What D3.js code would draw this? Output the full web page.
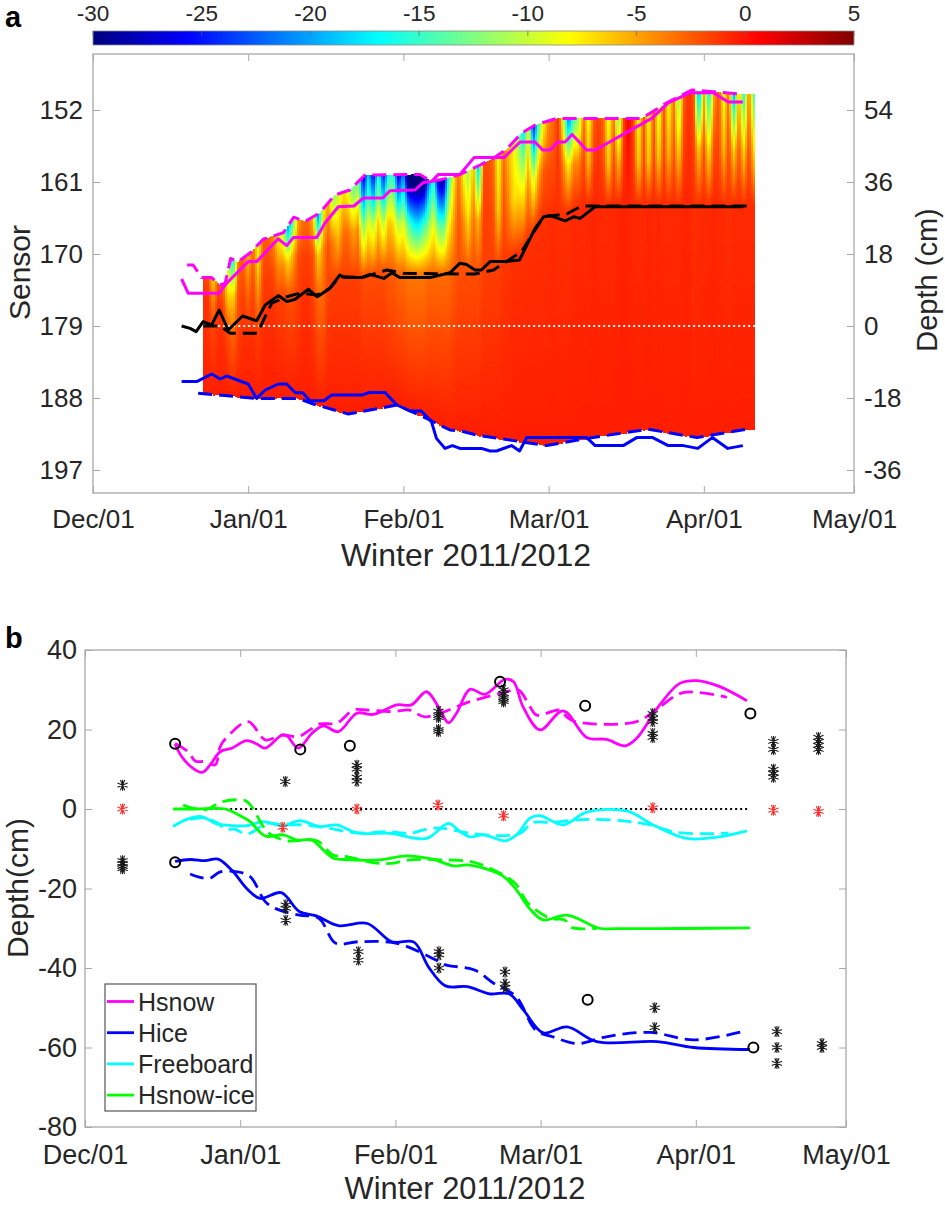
<!DOCTYPE html>
<html><head><meta charset="utf-8">
<script src="https://cdn.jsdelivr.net/npm/d3@7"></script>
<style>html,body{margin:0;padding:0;background:#fff}svg{display:block}text{font-family:"Liberation Sans",Arial,sans-serif;fill:#262626}</style>
</head><body><svg id="c" width="945" height="1206"></svg>
<script>
// ---------- data: [day since 1 Dec 2011, depth cm] ----------
const monthTicks=[[2011,11],[2012,0],[2012,1],[2012,2],[2012,3],[2012,4]];
const sensorTicks=[152,161,170,179,188,197];
const depthTicksA=[54,36,18,0,-18,-36];
const depthTicksB=[40,20,0,-20,-40,-60,-80];
const colorTicks=[-30,-25,-20,-15,-10,-5,0,5];

const aSnowSolid=[[17.7,11.75],[19,8.2],[25.2,8.2],[26.7,10.7],[31,16.1],[32.7,16.1],[37,21.8],[38.7,20.1],[40,22.1],[44.7,22.1],[46.3,25.7],[49,29.8],[52.1,30],[54,32],[57.9,32],[59.3,33.8],[64.3,34],[66,35.9],[67.6,36.1],[69,37.9],[73.3,37.9],[76.1,42.1],[82.1,42.1],[85.3,46],[88.3,46],[89.8,44],[91.3,44],[92.8,46],[94.3,46],[95.7,47.9],[98.6,44],[100.3,44],[111.6,51.9],[114.9,55.8],[119.2,58.3],[123.9,58.3],[126.9,56],[129.8,56]];
const aSnowDash=[[18.8,15.25],[20,15.25],[21.7,12.1],[23.7,12.1],[25.4,10.25],[26.4,10.7],[27.5,16.9],[29,16.1],[31.4,18.3],[34,21.7],[38,23.3],[40.1,27.2],[42.3,26.1],[45.3,28.3],[48.3,32.75],[51.3,34],[54.3,37.75],[65.3,37.9],[67.6,36.1],[70.6,36.9],[73.3,37.9],[77.3,40.25],[79.9,41.9],[82.6,44.2],[85.6,48.2],[88.3,50.25],[92.6,51.9],[109.6,51.9],[114.6,55.8],[119.6,59],[129.2,58]];
const aIfaceSolid=[[17.7,0],[19.4,-.6],[20.6,-1.4],[22,1.1],[23.7,.25],[25.2,4],[27,-1],[29.9,2.5],[32.7,1.3],[34.4,5.25],[37,7.6],[38.7,6.1],[40.4,6.7],[43,9.2],[44.8,7.3],[47.3,9.4],[49.3,12.75],[50.3,12.1],[53.7,12.1],[55.3,12.9],[58.1,11.9],[59.7,13.3],[61.3,12.1],[67.3,12.1],[71.3,13.3],[73.3,15.7],[74.6,15.4],[76.3,14],[77.6,14],[79.3,16.1],[82.3,16.1],[85.2,16.5],[88.3,24.4],[90,27.3],[91.3,27.6],[94.3,26.3],[96,27.3],[97.3,26.9],[100.3,29.8],[129.8,29.8]];
const aIfaceDash=[[22,0],[25.4,0],[27.4,-1.8],[32.8,-1.8],[35.7,5.7],[38.7,7.3],[41.3,8.2],[44.7,7.75],[47.3,9.4],[49.3,12.3],[53.7,12.1],[58.7,14],[62,13.2],[73.3,13],[76.3,13],[80,14],[85.6,18.6],[88.3,24],[90,27.3],[94.6,28],[97.6,30],[131.9,30]];
const aIceSolid=[[17.7,-13.9],[20.7,-13.9],[23.7,-12],[25.4,-13.25],[26.7,-12.5],[31,-14.5],[32.7,-18.1],[34.4,-16],[37,-14.5],[38.7,-14.5],[40.4,-16.7],[41.9,-16.7],[43.3,-18.7],[46.1,-18.7],[47.7,-17.25],[53.7,-17.25],[55.3,-16.6],[58.3,-16.6],[60.7,-19.75],[63.3,-21.25],[65.6,-21.25],[67.6,-23.9],[68.6,-28.1],[70.3,-30.6],[71.8,-29.9],[73.3,-30.6],[77.6,-30.6],[79.3,-31.25],[80.6,-31.25],[83.6,-29.9],[85.2,-31.25],[86.6,-27.9],[98.6,-27.9],[100.3,-29.9],[105.9,-29.9],[108.6,-27.9],[111.8,-27.9],[114.9,-29.9],[117.9,-29.9],[120.8,-30.6],[123.7,-27.9],[126.8,-30.6],[129.8,-29.9]];
const aIceDash=[[21,-16.8],[32.7,-18.1],[41,-18.1],[44,-19.5],[51,-22],[60.7,-19.75],[66.6,-23.1],[71.3,-26],[73.3,-26.2],[76.6,-27.25],[90.6,-29.9],[98.6,-28.1],[110.9,-25.8],[120.6,-27.9],[130.6,-25.8]];

const heatStartDay=22;
const surfaceTemp=[-1.5,-2,-7,-2,-3,-10,-18,-3,-2.5,-6,
 -2.5,-9,-2.5,-2.5,-4,-8,-10,-21,-14,-5,
 -3,-3,-6,-22,-8,-5,-12,-10,-7,-9,-14,-12,
 -28,-18,-27,-15,-26,-16,-15,-28,-20,-34,-34,-34,-34,-22,-15,-28,-30,-16,-8,
 -3,-8,-12,-5,-20,-2,-2,-3,-9,-3,-6,-8,-12,-18,-8,-26,-14,-8,-4,-3,-1,-10,-22,-14,-12,
 -3,-9,-2.5,-1.5,-3,-9,-3,-13,-1.5,1,-2,-9,-2,-9,-2,-10,-2,-9,-3,-13,-2.5,-1,-2,-22,-5,-18,-5,-2,-9,-2.5,-20,-5,-16,-3,-14];
const midSnowTemp=[-1,-1,-4,-1,-1.5,-6,-7,-2,-1.5,-3,
 -1.5,-5,-1.5,-1.5,-2,-4,-4,-7,-5,-2,
 -1.5,-1.5,-2,-7,-4,-2,-4,-6,-3,-3,-5,-4,
 -13,-8,-11,-6,-11,-6,-7,-11,-9,-14,-17,-18,-15,-12,-8,-13,-14,-8,-5,
 -2,-4,-7,-3,-6,-1.5,-1.5,-2,-7,-2,-4,-7,-7,-8,-4,-10,-5,-2.5,-2,-2,-1,-4,-8,-4,-4,
 -1.5,-6,-1.5,-1,-2,-7,-1.5,-6,-1,0,-1.5,-7,-1.5,-7,-1.5,-7,-1.5,-6,-2,-7,-1.5,-.8,-1.5,-7,-2,-8,-2,-1.5,-6,-1.5,-7,-2,-7,-1.5,-7];
const interfaceTemp=[-1,-1,-2,-1,-1,-2,-3,-1.5,-1,-1,
 -1,-1.5,-1,-1,-1,-1.5,-1.5,-2,-2,-1.5,
 -1,-1,-1.5,-3,-3,-1.5,-1.5,-1.5,-1.5,-1.5,-1.5,-1.5,
 -2,-2,-2,-2,-2,-2.5,-2.5,-3,-3,-3.5,-3.5,-3.5,-3.5,-3,-3,-3,-3,-3,-2.5,
 -2,-2,-2,-2,-2,-1.5,-1.5,-1.5,-1.5,-1.2,-1.2,-1,-1,
 -1,-1,-1,-1,-1,-1,-.8,-1,-1,-1,-.8,-.8,-.8,-.8,-.6,-.8,-.8,-.8,-.8,-.6,-.5,-.6,-.8,-.8,-.8,-.6,-.8,-.6,-.8,-.8,-.8,-.8,-.6,-.6,-1,-.8,-.8,-.8,-.6,-.8,-.8,-1,-.8,-.8,-.8,-.8,-.8];
const bottomTemp=-0.4;

const bSnowSolid=[[18,16.35],[19.3,13.2],[21.6,10.2],[23.4,9.2],[25,11.1],[27,14.4],[29.3,15.3],[32.3,17.2],[34.3,16.35],[36,15.3],[39.3,18.6],[40.3,18.45],[42.6,15.3],[45.3,19],[47.6,20.9],[50.6,19.45],[54.3,24.1],[57.6,23.8],[62.3,26.2],[65.2,26.2],[68.2,29.5],[70.6,25.7],[72.6,21.7],[74.2,24.1],[76.9,30.1],[79.9,28.85],[83.9,32.6],[85.6,32],[87.5,25.7],[90.9,19.9],[95.5,24.7],[100.2,18],[104.2,17.5],[107.9,15.9],[110.2,17.8],[114.8,26.2],[118.8,31.6],[122.2,32.3],[126.8,30.8],[132.2,27.25]];
const bSnowDash=[[18,16.5],[20.6,14.4],[22,12.1],[24,11.9],[26,11.1],[27,15.7],[28.3,18],[32.6,22],[36,17.4],[39.3,18.6],[42.6,18.2],[44.9,19.9],[46.9,21.4],[50.3,21.6],[53.6,24.9],[56.3,24.9],[61.6,24.5],[64.9,24.9],[67.9,23.2],[76.9,27],[83.6,29.3],[86.6,29.9],[88.9,25.7],[90.2,23.6],[94.9,24.9],[96.2,23.2],[97.9,22],[110.2,22],[114.8,25.7],[119.5,29.3],[128.2,28.1]];
const bFreeSolid=[[17.6,-4.4],[20.3,-2.6],[23.3,-1.9],[26,-3.6],[27.6,-4],[32.3,-4.2],[35.6,-3.2],[39.6,-4.2],[42.9,-2.9],[46.9,-4.4],[50.3,-4],[54.3,-6],[60.9,-6.1],[68.2,-7.4],[72.6,-3.6],[74.9,-5.7],[76.9,-7],[79.6,-6.5],[83.9,-8],[86.2,-6.5],[88.9,-2.3],[90.9,-1.7],[95.5,-4],[100.2,-.8],[108.2,-.5],[113.5,-4],[120.2,-7.4],[126.2,-7.1],[132.2,-5.5]];
const bFreeDash=[[21,-2.6],[24,-2.3],[26.6,-3.6],[28,-5.1],[30,-5.1],[32,-6.3],[33.6,-5.7],[36.3,-3.6],[39.6,-4],[43.6,-4],[48.9,-4.9],[54.3,-6],[60.6,-5.7],[64.9,-6.1],[68.9,-4.9],[71.6,-4.9],[76.9,-6.1],[83.6,-6.7],[86.9,-6.1],[89.5,-3.4],[92.9,-3.4],[97.5,-2.8],[101.5,-2.6],[107.5,-3],[112.2,-3.8],[118.2,-5.9],[128.5,-6.1]];
const bSnowIceSolid=[[17.6,0],[22,0],[28,0],[31,-1.7],[33,-3.2],[36,-6.8],[39.6,-6.5],[42.3,-7.8],[45.3,-7.8],[47.6,-10.3],[49.6,-12.4],[51.6,-12.7],[58.9,-12.8],[64.2,-11.8],[69.6,-12.7],[73.6,-14.3],[76.9,-14.1],[83.5,-16.9],[86.2,-20.4],[88.9,-25.2],[91.5,-27.9],[96.3,-26.7],[102.7,-30],[106,-30.1],[115,-30.1],[125,-30],[132.8,-29.9]];
const bSnowIceDash=[[19.6,1],[21,.4],[24.3,-.1],[27.3,1.8],[32,2.1],[33.3,.6],[35.6,-4.4],[37,-6.3],[40.3,-8],[46.3,-8],[49.6,-11.6],[52.3,-12],[57.6,-13.5],[60.9,-13.7],[64.9,-12.8],[71.6,-12.8],[76.9,-13.2],[80.9,-14.9],[85.9,-18.7],[88.5,-23.7],[92.9,-27.5],[95.8,-27.9],[97.3,-29.85],[102.2,-30]];
const bIceSolid=[[18,-13.2],[21,-12.7],[24,-13],[26.6,-12.6],[29.6,-15.8],[32.3,-20],[35,-22.5],[39.2,-21.05],[42.8,-25.8],[46.2,-26.9],[50.6,-29.35],[56.4,-28.8],[61.3,-33.4],[65.7,-33.5],[68.6,-39.7],[72,-44.5],[76.4,-44.7],[80.8,-46.5],[84.7,-46.5],[87.6,-50.6],[91.5,-56.3],[96.3,-54.8],[102.2,-58.5],[114.3,-58.5],[121.6,-60],[132.8,-60.5]];
const bIceDash=[[21,-16.35],[23,-17.2],[25,-17.4],[27,-15.8],[30.3,-15.8],[33,-17],[36,-23.3],[38,-25],[42.8,-26.7],[46.7,-27.5],[50.1,-33.8],[54.5,-33.4],[62.3,-33.8],[70.1,-38],[72,-39.2],[77.8,-40.5],[81.7,-43.9],[86.1,-47.2],[90,-55.6],[93.4,-57.3],[98.3,-59],[104.1,-57.3],[112.9,-56.2],[121.6,-58.1],[131.3,-56]];
const zeroLine=[[18,0],[132.5,0]];
const heatZeroLine=[[22,0],[132.2,0]];

const circles=[[18,16.4],[18,-13.4],[43,15],[52.9,15.9],[82.9,32],[99.9,26],[132.9,24],[100.4,-48],[133.5,-60]];
const starsBlack=[[7.5,6],[7.5,-13],[7.5,-13.7],[7.5,-14.5],[7.5,-15],[40,6.9],[54.3,11],[54.3,10],[54.3,8],[54.3,7],[70.6,24.6],[70.6,23.5],[70.6,23],[70.6,20],[70.6,19.5],[83.6,30],[83.6,29],[83.6,28],[83.6,27.5],[83.6,27],[113.4,24],[113.4,22.8],[113.4,22],[113.4,19],[113.4,18],[137.5,17],[137.5,15],[137.5,10],[137.5,9],[137.5,8],[146.5,18],[146.5,17],[146.5,16],[146.5,15],[40.1,-24.1],[40.1,-25],[40.1,-28],[54.6,-35.9],[54.6,-38],[70.7,-35.9],[70.7,-36.7],[70.7,-40],[83.9,-41],[83.9,-44],[83.9,-44.9],[113.8,-50],[113.8,-55],[138.2,-56],[138.2,-60],[138.2,-64],[147.2,-59],[147.2,-60]];
const starsRed=[[7.5,0],[39.5,-4.6],[54.3,0],[70.5,1],[83.6,-1.7],[113.4,.3],[137.5,-.3],[146.5,-.6]];
const legendNames=["Hsnow","Hice","Freeboard","Hsnow-ice"];
const legendColors=["#ff00ff","#0000ff","#00ffff","#00ff00"];

// ---------- scales ----------
const svg=d3.select("#c");
const GREY="#a8a8a8";
const dayDate=d=>new Date(Date.UTC(2011,11,1)+d*864e5);
const monthDates=monthTicks.map(m=>new Date(Date.UTC(m[0],m[1],1)));
const xA=d3.scaleUtc().domain([monthDates[0],monthDates[5]]).range([93,854]);
const yA=d3.scaleLinear().domain([68,-41.75]).range([54,493]);
const ySensor=d3.scaleLinear().domain([152,197]).range([yA(54),yA(-36)]);
const xB=d3.scaleUtc().domain([monthDates[0],monthDates[5]]).range([85,846]);
const yB=d3.scaleLinear().domain([40,-80]).range([650,1127]);
const jetStops=[-30,-25.625,-16.875,-8.125,.625,5];
const jetColors=["#000080","#0000ff","#00ffff","#ffff00","#ff0000","#800000"];
const jet=d3.scaleLinear().domain(jetStops).range(jetColors).clamp(true);
const fmt=d3.utcFormat("%b/%d");
const lerpSeries=s=>d3.scaleLinear().domain(s.map(p=>p[0])).range(s.map(p=>p[1])).clamp(true);

// ---------- heat map (panel a) ----------
const topAt=lerpSeries(aSnowDash),ifaceAt=lerpSeries(aIfaceDash),botAt=lerpSeries(aIceDash);
const dayIndex=surfaceTemp.map((_,i)=>i+heatStartDay);
const sT=d3.scaleLinear().domain(dayIndex).range(surfaceTemp);
const mT=d3.scaleLinear().domain(dayIndex).range(midSnowTemp);
const iT=d3.scaleLinear().domain(dayIndex).range(interfaceTemp);
const heatG=svg.append("g");
const cells=[];
const dayOfPx=px=>(xA.invert(px)-dayDate(0))/864e5;
for(let px=203;px<755;px+=2){
  const day=dayOfPx(px+1);
  const t=topAt(day),b=botAt(day),f=ifaceAt(day),m=(t+f)/2;
  const prof=d3.scaleLinear().domain([t,m,f,b]).range([sT(day),mT(day),iT(day),bottomTemp]);
  const y0=Math.round(yA(t)),y1=Math.round(yA(b));
  for(let py=y0;py<y1;py+=2) cells.push({px,py,v:prof(yA.invert(py+1))});
}
heatG.selectAll("rect").data(cells).join("rect")
  .attr("x",d=>d.px).attr("y",d=>d.py).attr("width",2).attr("height",2)
  .attr("fill",d=>jet(d.v)).attr("shape-rendering","crispEdges");

// ---------- colour bar ----------
const xC=d3.scaleLinear().domain([-30,5]).range([93,854]);
svg.append("g").selectAll("rect").data(d3.range(93,854)).join("rect")
  .attr("x",d=>d).attr("y",31).attr("width",1.2).attr("height",14)
  .attr("fill",d=>jet(xC.invert(d+.5))).attr("shape-rendering","crispEdges");
svg.append("rect").attr("x",93).attr("y",31).attr("width",761).attr("height",14).attr("fill","none").attr("stroke","#8a8a8a").attr("stroke-width",.8);
const cb=svg.append("g").selectAll("g").data(colorTicks).join("g");
cb.append("line").attr("x1",d=>xC(d)).attr("x2",d=>xC(d)).attr("y1",31).attr("y2",36).attr("stroke","#666").attr("stroke-width",.7);
cb.append("text").attr("x",d=>xC(d)).attr("y",20.5).attr("text-anchor","middle").attr("font-size",22.5).text(d=>d);

// ---------- axes ----------
function frame(x,y,fs,pad){
  const [x0,x1]=x.range(),[y0,y1]=y.range();
  const g=svg.append("g");
  const style=a=>{a.select(".domain").remove();a.selectAll("line").attr("stroke",GREY).attr("stroke-width",1);a.selectAll("text").attr("font-size",fs).style("font-family",'"Liberation Sans",Arial,sans-serif').attr("fill","#262626");};
  g.append("rect").attr("x",x0).attr("y",y0).attr("width",x1-x0).attr("height",y1-y0).attr("fill","none").attr("stroke",GREY).attr("stroke-width",1.3);
  g.append("g").attr("transform",`translate(0,${y1})`).call(d3.axisBottom(x).tickValues(monthDates).tickFormat(fmt).tickSize(-7).tickPadding(pad)).call(style);
  g.append("g").attr("transform",`translate(0,${y0})`).call(d3.axisTop(x).tickValues(monthDates).tickFormat("").tickSize(-7)).call(style);
  return {g,style};
}
const plain=d=>String(d);
const fa=frame(xA,yA,26,17);
fa.g.append("g").attr("transform","translate(93,0)").call(d3.axisLeft(ySensor).tickValues(sensorTicks).tickFormat(plain).tickSize(-7).tickPadding(10)).call(fa.style);
fa.g.append("g").attr("transform","translate(854,0)").call(d3.axisRight(yA).tickValues(depthTicksA).tickFormat(plain).tickSize(-7).tickPadding(10)).call(fa.style);
const fb=frame(xB,yB,27,18);
fb.g.append("g").attr("transform","translate(85,0)").call(d3.axisLeft(yB).tickValues(depthTicksB).tickFormat(plain).tickSize(-7).tickPadding(8)).call(fb.style);
fb.g.append("g").attr("transform","translate(846,0)").call(d3.axisRight(yB).tickValues(depthTicksB).tickFormat("").tickSize(-7)).call(fb.style);

// ---------- lines ----------
const DASH="14 7";
function draw(x,y,data,color,dash,w,curve){
  const line=d3.line().x(d=>x(dayDate(d[0]))).y(d=>y(d[1])).curve(curve||d3.curveLinear);
  svg.append("path").attr("d",line(data)).attr("fill","none").attr("stroke",color).attr("stroke-width",w||3)
    .attr("stroke-dasharray",dash||null).attr("stroke-linejoin","round");
}
draw(xA,yA,heatZeroLine,"#ffffff","2 3",2);
draw(xA,yA,aSnowDash,"#ff00ff",DASH);
draw(xA,yA,aSnowSolid,"#ff00ff");
draw(xA,yA,aIfaceDash,"#000",DASH);
draw(xA,yA,aIfaceSolid,"#000");
draw(xA,yA,aIceDash,"#0000ff",DASH);
draw(xA,yA,aIceSolid,"#0000ff");

const smooth=d3.curveCatmullRom.alpha(.5);
draw(xB,yB,zeroLine,"#000","2 3",2);
draw(xB,yB,bSnowDash,"#ff00ff",DASH,2.8,smooth);
draw(xB,yB,bSnowSolid,"#ff00ff",null,2.8,smooth);
draw(xB,yB,bFreeDash,"#00ffff",DASH,2.8,smooth);
draw(xB,yB,bFreeSolid,"#00ffff",null,2.8,smooth);
draw(xB,yB,bSnowIceDash,"#00ff00",DASH,2.8,smooth);
draw(xB,yB,bSnowIceSolid,"#00ff00",null,2.8,smooth);
draw(xB,yB,bIceDash,"#0000ff",DASH,2.8,smooth);
draw(xB,yB,bIceSolid,"#0000ff",null,2.8,smooth);

// ---------- markers ----------
const starPath=d3.range(4).map(i=>{const a=i*Math.PI/4+Math.PI/8,r=5.5,c=Math.cos(a)*r,s=Math.sin(a)*r;return `M${-c},${-s}L${c},${s}`;}).join("")+"M0,-5.5L0,5.5";
const stars=(data,col)=>svg.append("g").selectAll("path").data(data).join("path")
  .attr("transform",d=>`translate(${xB(dayDate(d[0]))},${yB(d[1])})`).attr("d",starPath).attr("fill","none").attr("stroke",col).attr("stroke-width",1.1);
stars(starsBlack,"#1a1a1a");stars(starsRed,"#ff2a2a");
svg.append("g").selectAll("circle").data(circles).join("circle")
  .attr("cx",d=>xB(dayDate(d[0]))).attr("cy",d=>yB(d[1])).attr("r",5)
  .attr("fill","none").attr("stroke","#000").attr("stroke-width",2);

// ---------- legend ----------
const lg=svg.append("g");
lg.append("rect").attr("x",105).attr("y",984).attr("width",151).attr("height",127).attr("fill","#fff").attr("stroke","#555").attr("stroke-width",1.2);
const ent=lg.selectAll("g").data(legendNames).join("g").attr("transform",(d,i)=>`translate(0,${1001.5+i*31.2})`);
ent.append("line").attr("x1",107).attr("x2",134).attr("stroke",(d,i)=>legendColors[i]).attr("stroke-width",2.8);
ent.append("text").attr("x",138).attr("y",9).attr("font-size",25).text(d=>d);

// ---------- titles ----------
const lab=(t,x,y,s,rot,w)=>svg.append("text").attr("transform",`translate(${x},${y})${rot?" rotate(-90)":""}`)
  .attr("text-anchor",w?"start":"middle").attr("font-size",s).attr("font-weight",w||null).style("fill",w?"#000":"#262626").text(t);
lab("Winter 2011/2012",466,566,32);
lab("Winter 2011/2012",465,1199,30.8);
lab("Sensor",30,272.5,30,true);
lab("Depth (cm)",937,280,29,true);
lab("Depth(cm)",28,888,30,true);
lab("a",5,27,29,false,"bold");
lab("b",5,648,29,false,"bold");
</script></body></html>
